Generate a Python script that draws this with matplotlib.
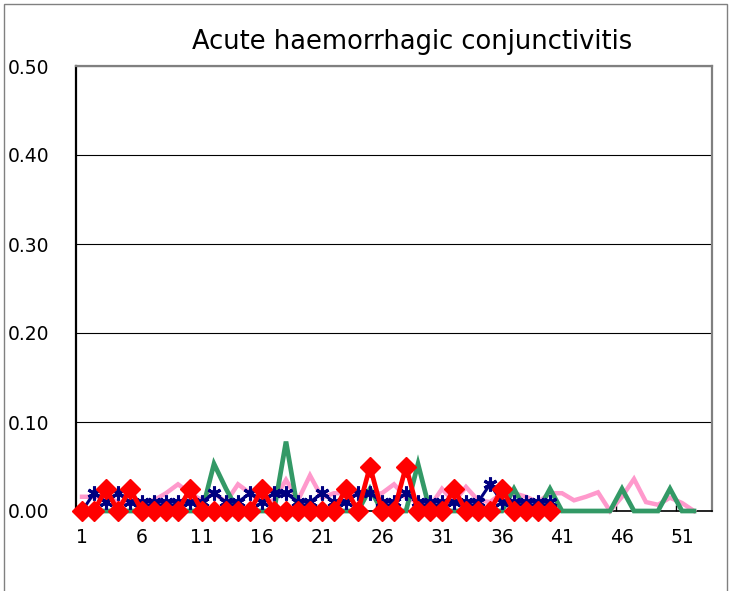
import matplotlib
matplotlib.use("Agg")
import matplotlib.pyplot as plt
from matplotlib.patches import Rectangle
import numpy as np

title = "Acute haemorrhagic conjunctivitis"
y_ticks = [0.0, 0.1, 0.2, 0.3, 0.4, 0.5]
y_labels = ["0.00", "0.10", "0.20", "0.30", "0.40", "0.50"]
x_labels = [1, 6, 11, 16, 21, 26, 31, 36, 41, 46, 51]

weeks_full = list(range(1, 53))
pink = [0.016, 0.016, 0.016, 0.010, 0.008, 0.010, 0.012, 0.020, 0.030, 0.020,
        0.012, 0.020, 0.010, 0.030, 0.020, 0.010, 0.012, 0.035, 0.012, 0.040,
        0.015, 0.020, 0.020, 0.020, 0.018, 0.020, 0.030, 0.015, 0.010, 0.005,
        0.025, 0.010, 0.027, 0.012, 0.010, 0.020, 0.020, 0.016, 0.010, 0.020,
        0.020, 0.012, 0.016, 0.021, 0.000, 0.016, 0.036, 0.010, 0.007, 0.015,
        0.009, 0.000]
green = [0, 0, 0, 0, 0, 0, 0, 0, 0, 0,
         0, 0.053, 0.025, 0, 0, 0, 0, 0.078, 0, 0,
         0, 0, 0, 0, 0.025, 0, 0, 0, 0.053, 0,
         0, 0, 0, 0, 0, 0, 0.025, 0, 0, 0.025,
         0, 0, 0, 0, 0, 0.025, 0, 0, 0, 0.025,
         0, 0]

weeks_cur = list(range(1, 41))
navy = [0.000, 0.020, 0.010, 0.020, 0.010, 0.010, 0.010, 0.010, 0.010, 0.010,
        0.010, 0.020, 0.010, 0.010, 0.020, 0.010, 0.020, 0.020, 0.010, 0.010,
        0.020, 0.010, 0.010, 0.020, 0.020, 0.010, 0.010, 0.020, 0.010, 0.010,
        0.010, 0.010, 0.010, 0.010, 0.030, 0.010, 0.010, 0.010, 0.010, 0.010]
red = [0, 0, 0.025, 0, 0.025, 0, 0, 0, 0, 0.025,
       0, 0, 0, 0, 0, 0.025, 0, 0, 0, 0,
       0, 0, 0.025, 0, 0.05, 0, 0, 0.05, 0, 0,
       0, 0.025, 0, 0, 0, 0.025, 0, 0, 0, 0]

plt.rcParams['font.family'] = ['DejaVu Sans']

W, H = 732, 591
fig = plt.figure(figsize=(W / 100, H / 100), dpi=100)
ax = fig.add_axes([76 / W, 1 - 511 / H, (712 - 76) / W, (511 - 66) / H])

ax.plot(weeks_full, pink, color="#FF99CC", lw=3.2, zorder=3,
        solid_joinstyle="miter", clip_on=False)
ax.plot(weeks_full, green, color="#339966", lw=3.4, zorder=4,
        solid_joinstyle="miter", clip_on=False)
ax.plot(weeks_cur, navy, color="#000080", lw=2.2, marker=(6, 2, 0), ms=10, mew=2.2,
        zorder=5, clip_on=False)
ax.plot(weeks_cur, red, color="#FF0000", lw=3.4, marker="D", ms=10,
        mec="#FF0000", mfc="#FF0000", zorder=6, clip_on=False)

ax.set_xlim(0.5, 53.5)
ax.set_ylim(0, 0.5)
ax.set_yticks(y_ticks)
ax.set_yticklabels(y_labels)
ax.tick_params(axis="y", length=0, pad=19, labelsize=13.5, colors="black")
for lab in ax.get_yticklabels():
    lab.set_horizontalalignment("right")

ax.set_xticks([x - 0.5 for x in x_labels])
ax.set_xticklabels([])
ax.tick_params(axis="x", which="major", direction="in", length=4, width=1, color="black")
ax.set_xticks(x_labels, minor=True)
ax.set_xticklabels([str(x) for x in x_labels], minor=True)
ax.tick_params(axis="x", which="minor", length=0, pad=12, labelsize=13.5)

ax.yaxis.grid(True, color="#000000", lw=0.8)
ax.set_axisbelow(True)

for s in ["top", "right"]:
    ax.spines[s].set_color("#808080")
    ax.spines[s].set_linewidth(1.6)
ax.spines["left"].set_color("black")
ax.spines["left"].set_linewidth(1.6)
ax.spines["bottom"].set_color("black")
ax.spines["bottom"].set_linewidth(1.2)

fig.text(412 / W, 1 - 42 / H, title, ha="center", va="center", fontsize=18.5)

fig.patches.append(Rectangle((4 / W, -0.1), (727 - 4) / W, 1.1 - 4 / H,
                             transform=fig.transFigure, fill=False,
                             edgecolor="#808080", lw=1.0))

fig.savefig("out.png", dpi=100)
